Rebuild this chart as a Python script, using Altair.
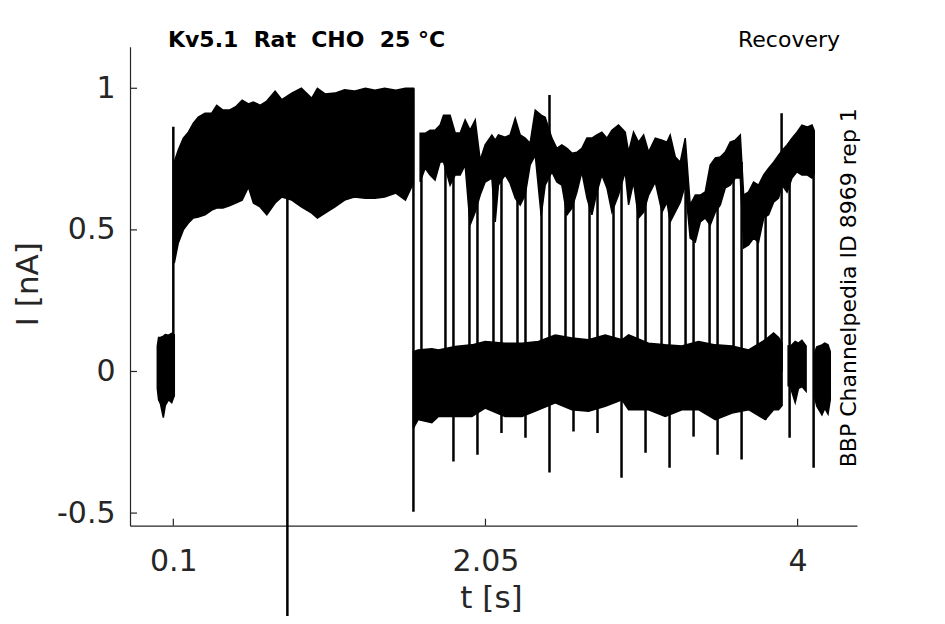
import altair as alt
import pandas as pd

# ---------------- data ----------------
X_TICKS = [0.1, 2.05, 4]
Y_TICKS = [-0.5, 0, 0.5, 1]
X_DOMAIN = [-0.1706, 4.371]
Y_DOMAIN = [-0.5445, 1.1468]

TITLE_LEFT = "Kv5.1 \u00a0Rat \u00a0CHO \u00a025 \u00b0C"
TITLE_RIGHT = "Recovery"
SIDE_NOTE = "BBP Channelpedia ID 8969 rep 1"

# noise envelopes (time s, upper edge nA, lower edge nA)
PRE_T = [0.0, 0.008, 0.02, 0.0375, 0.05, 0.07, 0.09, 0.106]
PRE_HI = [0.09, 0.12, 0.12, 0.125, 0.13, 0.128, 0.135, 0.13]
PRE_LO = [-0.06, -0.10, -0.115, -0.163, -0.12, -0.10, -0.11, -0.085]

P1_T = [0.106, 0.131, 0.1625, 0.194, 0.225, 0.256, 0.298, 0.34, 0.371, 0.41,
        0.45, 0.49, 0.53, 0.569, 0.6, 0.642, 0.684, 0.736, 0.778, 0.84,
        0.9, 0.965, 1.0, 1.048, 1.11, 1.17, 1.23, 1.3, 1.36, 1.42, 1.49, 1.55, 1.6]
P1_HI = [0.74, 0.782, 0.824, 0.845, 0.877, 0.898, 0.912, 0.912, 0.94, 0.923,
         0.923, 0.935, 0.958, 0.945, 0.951, 0.94, 0.955, 0.99, 0.96, 0.983,
         1.0, 0.965, 1.0, 0.98, 0.983, 0.995, 0.99, 1.0, 0.993, 1.0, 0.993, 1.0, 1.0]
P1_LO = [0.383, 0.454, 0.50, 0.524, 0.542, 0.545, 0.553, 0.57, 0.577, 0.577,
         0.585, 0.595, 0.605, 0.651, 0.595, 0.581, 0.553, 0.595, 0.616, 0.605,
         0.581, 0.559, 0.542, 0.559, 0.581, 0.605, 0.616, 0.612, 0.612, 0.616, 0.63, 0.605, 0.665]

UP_T = [1.642, 1.673, 1.704, 1.735, 1.767, 1.788, 1.829, 1.861, 1.892, 1.923,
        1.954, 1.986, 2.017, 2.048, 2.09, 2.111, 2.131, 2.173, 2.204, 2.236,
        2.267, 2.298, 2.329, 2.361, 2.398, 2.423, 2.465, 2.496, 2.527, 2.559,
        2.59, 2.621, 2.652, 2.684, 2.715, 2.746, 2.777, 2.809, 2.84, 2.881,
        2.923, 2.944, 2.975, 3.006, 3.038, 3.069, 3.111, 3.153, 3.184, 3.204,
        3.236, 3.267, 3.298, 3.329, 3.361, 3.392, 3.423, 3.454, 3.486, 3.517,
        3.548, 3.579, 3.611, 3.642, 3.663, 3.694, 3.725, 3.756, 3.788, 3.819,
        3.85, 3.881, 3.903, 3.934, 3.965, 3.996, 4.027, 4.059, 4.09, 4.104]
UP_HI = [0.841, 0.841, 0.852, 0.852, 0.870, 0.905, 0.905, 0.842, 0.842, 0.888,
         0.852, 0.888, 0.746, 0.800, 0.835, 0.817, 0.835, 0.827, 0.835, 0.894,
         0.835, 0.824, 0.806, 0.923, 0.905, 0.898, 0.824, 0.788, 0.800, 0.788,
         0.771, 0.774, 0.788, 0.824, 0.824, 0.835, 0.845, 0.824, 0.852, 0.870,
         0.845, 0.775, 0.845, 0.810, 0.835, 0.775, 0.824, 0.817, 0.810, 0.835,
         0.757, 0.739, 0.824, 0.588, 0.623, 0.623, 0.634, 0.729, 0.754, 0.757,
         0.775, 0.810, 0.817, 0.835, 0.623, 0.634, 0.669, 0.658, 0.694, 0.718,
         0.739, 0.764, 0.780, 0.800, 0.824, 0.845, 0.870, 0.863, 0.870, 0.850]
UP_LO = [0.670, 0.718, 0.694, 0.676, 0.740, 0.740, 0.658, 0.694, 0.694, 0.729,
         0.517, 0.563, 0.623, 0.669, 0.683, 0.528, 0.658, 0.694, 0.665, 0.612,
         0.588, 0.623, 0.729, 0.764, 0.550, 0.658, 0.705, 0.669, 0.658, 0.553,
         0.577, 0.633, 0.705, 0.612, 0.553, 0.633, 0.694, 0.648, 0.563, 0.623,
         0.705, 0.588, 0.669, 0.542, 0.563, 0.623, 0.669, 0.563, 0.598, 0.528,
         0.563, 0.598, 0.658, 0.471, 0.457, 0.528, 0.542, 0.517, 0.563, 0.588,
         0.648, 0.658, 0.683, 0.683, 0.436, 0.447, 0.471, 0.457, 0.542, 0.553,
         0.598, 0.612, 0.658, 0.633, 0.683, 0.705, 0.694, 0.694, 0.683, 0.700]

B1_T = [1.6, 1.629, 1.715, 1.756, 1.861, 1.965, 2.048, 2.173, 2.278, 2.381,
        2.486, 2.59, 2.694, 2.798, 2.903, 2.944, 3.069, 3.173, 3.277, 3.381,
        3.486, 3.59, 3.694, 3.798, 3.85, 3.881, 3.903]
B1_HI = [0.07, 0.076, 0.08, 0.076, 0.088, 0.094, 0.106, 0.10, 0.10, 0.106,
         0.129, 0.118, 0.112, 0.129, 0.112, 0.129, 0.10, 0.094, 0.09, 0.106,
         0.094, 0.09, 0.076, 0.112, 0.136, 0.12, 0.10]
B1_LO = [-0.20, -0.17, -0.181, -0.159, -0.159, -0.159, -0.129, -0.159, -0.159, -0.135,
         -0.111, -0.135, -0.14, -0.123, -0.10, -0.135, -0.135, -0.159, -0.135, -0.135,
         -0.17, -0.147, -0.135, -0.17, -0.135, -0.135, -0.12]

B2_T = [3.941, 3.954, 3.985, 4.005, 4.027, 4.053]
B2_HI = [0.09, 0.088, 0.106, 0.10, 0.11, 0.09]
B2_LO = [-0.05, -0.053, -0.11, -0.06, -0.053, -0.07]

B3_T = [4.105, 4.12, 4.152, 4.17, 4.19, 4.204]
B3_HI = [0.065, 0.087, 0.094, 0.10, 0.094, 0.07]
B3_LO = [-0.088, -0.123, -0.153, -0.13, -0.15, -0.10]

# vertical transitions (time s, low nA, high nA)
PAIR_A_T = [1.8, 1.95, 2.1, 2.25, 2.4, 2.55, 2.7, 2.85, 3.0, 3.15, 3.3, 3.45, 3.6, 3.75, 3.9]
PAIR_A_LO = [0.0, 0.0, 0.0, 0.0, 0.0, 0.0, 0.0, 0.0, 0.0, 0.0, 0.0, 0.0, 0.0, 0.0, 0.0]
PAIR_A_HI = [0.80, 0.70, 0.72, 0.72, 0.72, 0.68, 0.70, 0.72, 0.68, 0.70, 0.74, 0.62, 0.74, 0.56, 0.912]

PAIR_B_T = [1.85, 2.0, 2.15, 2.3, 2.45, 2.6, 2.75, 2.9, 3.05, 3.2, 3.35, 3.5, 3.65, 3.8, 3.95]
PAIR_B_LO = [-0.318, -0.294, -0.217, -0.234, -0.357, -0.212, -0.217, -0.375, -0.287, -0.34,
             -0.23, -0.294, -0.311, -0.17, -0.234]
PAIR_B_HI = [0.77, 0.70, 0.75, 0.72, 0.976, 0.70, 0.72, 0.75, 0.70, 0.70, 0.55, 0.66, 0.74, 0.62, 0.74]

EDGE_T = [0.1, 1.6, 1.65, 4.1]
EDGE_LO = [-0.09, -0.495, 0.0, -0.34]
EDGE_HI = [0.864, 1.0, 0.76, 0.78]

ARTIFACT_T = [0.8125]
ARTIFACT_LO = [-1.2]
ARTIFACT_HI = [0.62]

# ---------------- build tables ----------------
rows = []
for name, ts, his, los in [("pre", PRE_T, PRE_HI, PRE_LO), ("p1", P1_T, P1_HI, P1_LO),
                           ("up", UP_T, UP_HI, UP_LO), ("b1", B1_T, B1_HI, B1_LO),
                           ("b2", B2_T, B2_HI, B2_LO), ("b3", B3_T, B3_HI, B3_LO)]:
    for t, h, l in zip(ts, his, los):
        rows.append({"seg": name, "t": t, "hi": h, "lo": l})
bands = pd.DataFrame(rows)

rrows = []
for ts, los, his in [(PAIR_A_T, PAIR_A_LO, PAIR_A_HI), (PAIR_B_T, PAIR_B_LO, PAIR_B_HI),
                     (EDGE_T, EDGE_LO, EDGE_HI)]:
    for t, l, h in zip(ts, los, his):
        rrows.append({"t": t, "lo": l, "hi": h})
rules = pd.DataFrame(rrows)
artifact = pd.DataFrame({"t": ARTIFACT_T, "lo": ARTIFACT_LO, "hi": ARTIFACT_HI})
xtick_df = pd.DataFrame({"t": X_TICKS})
ytick_df = pd.DataFrame({"hi": Y_TICKS})

W, H = 727, 479
AX = "#262626"
FONT = "DejaVu Sans"

xs = alt.Scale(domain=X_DOMAIN, nice=False, zero=False)
ys = alt.Scale(domain=Y_DOMAIN, nice=False, zero=False)

x_axis = alt.Axis(values=X_TICKS, labelExpr="'' + datum.value", ticks=False, tickSize=0,
                  grid=False, domainColor=AX, domainWidth=1.2, labelFont=FONT,
                  labelFontSize=30, labelColor=AX, labelPadding=21, labelFlush=False,
                  title="t [s]", titleFont=FONT, titleFontSize=31, titleFontWeight="normal",
                  titleColor=AX, titleX=361, titleY=82, titleBaseline="alphabetic",
                  titleAlign="center")
y_axis = alt.Axis(values=Y_TICKS, labelExpr="'' + datum.value", ticks=False, tickSize=0,
                  grid=False, domainColor=AX, domainWidth=1.2, labelFont=FONT,
                  labelFontSize=30, labelColor=AX, labelPadding=15, labelFlush=False,
                  title="I [nA]", titleFont=FONT, titleFontSize=31, titleFontWeight="normal",
                  titleColor=AX, titleX=-93, titleY=237, titleAngle=270,
                  titleBaseline="alphabetic", titleAlign="center")

X = alt.X("t:Q", scale=xs, axis=x_axis, title="t [s]")
Y = alt.Y("hi:Q", scale=ys, axis=y_axis, title="I [nA]")

band_layer = alt.Chart(bands).mark_area(color="black", stroke="black", strokeWidth=1.5,
                                        interpolate="linear").encode(
    x=X, y=Y, y2="lo:Q", detail="seg:N")

rule_layer = alt.Chart(rules).mark_rule(color="black", strokeWidth=2.5).encode(
    x=X, y=Y, y2="lo:Q")

artifact_layer = alt.Chart(artifact).mark_rule(color="black", strokeWidth=2.5, clip=False).encode(
    x=X, y=Y, y2="lo:Q")

xt = alt.Chart(xtick_df).mark_rule(color=AX, strokeWidth=1.2).encode(
    x=X, y=alt.value(H), y2=alt.value(H - 7))
yt = alt.Chart(ytick_df).mark_rule(color=AX, strokeWidth=1.2).encode(
    y=Y, x=alt.value(0), x2=alt.value(7))

t_left = alt.Chart(pd.DataFrame({"s": [TITLE_LEFT]})).mark_text(
    font=FONT, fontSize=22, fontWeight="bold", color="black", align="left",
    baseline="alphabetic").encode(x=alt.value(38), y=alt.value(0.5), text="s:N")
t_right = alt.Chart(pd.DataFrame({"s": [TITLE_RIGHT]})).mark_text(
    font=FONT, fontSize=22, color="black", align="right",
    baseline="alphabetic").encode(x=alt.value(710), y=alt.value(0.5), text="s:N")
t_side = alt.Chart(pd.DataFrame({"s": [SIDE_NOTE]})).mark_text(
    font=FONT, fontSize=22, color="black", align="center", angle=270,
    baseline="alphabetic").encode(x=alt.value(726), y=alt.value(241), text="s:N")

chart = alt.layer(band_layer, rule_layer, artifact_layer, xt, yt, t_left, t_right, t_side).properties(
    width=W, height=H,
    autosize=alt.AutoSizeParams(type="none"),
    padding={"left": 122, "top": 38.7, "right": 80, "bottom": 90},
    background="white",
).configure_view(stroke=None)

chart.save("out.html", embed_options={"renderer": "svg", "actions": False})
